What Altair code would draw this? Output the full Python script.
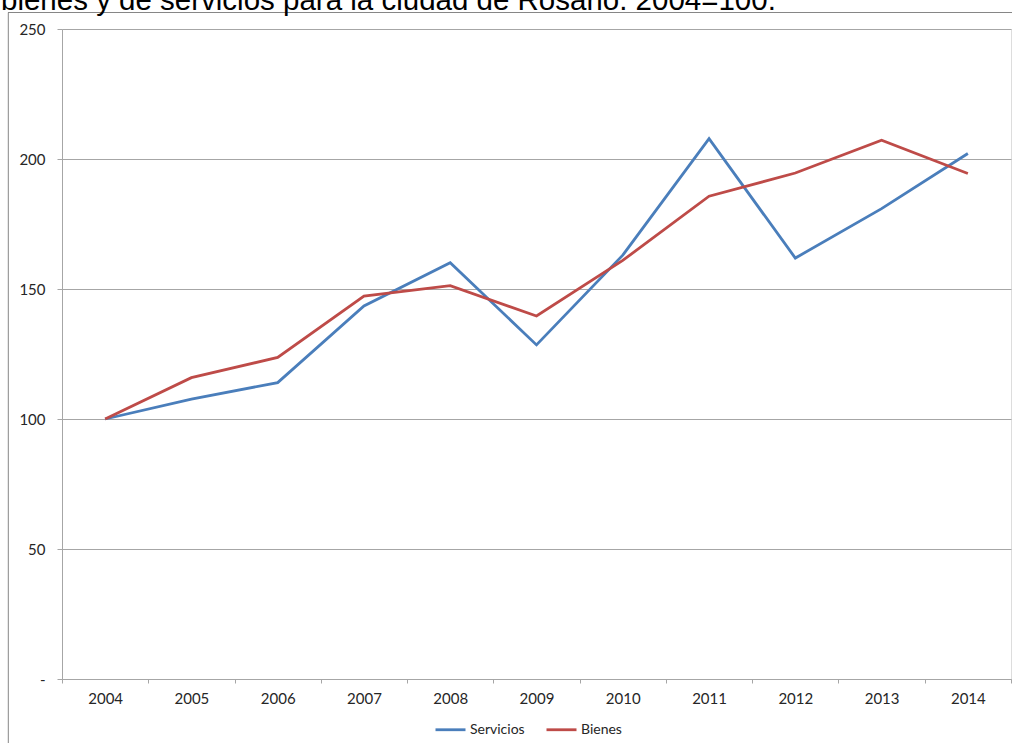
import altair as alt
import pandas as pd

# Price index by year, 2004 = 100
years = ["2004", "2005", "2006", "2007", "2008", "2009", "2010", "2011", "2012", "2013", "2014"]
servicios = [100, 107.6, 114.0, 143.5, 160.1, 128.5, 163.0, 207.8, 161.9, 180.9, 202.1]
bienes = [100, 115.9, 123.7, 147.3, 151.3, 139.6, 161.0, 185.7, 194.6, 207.2, 194.4]
series_names = ["Servicios", "Bienes"]
series_colors = ["#4a7ebb", "#be4b48"]
title_text = "bienes y de servicios para la ciudad de Rosario. 2004=100."

rows = []
for name, values in zip(series_names, [servicios, bienes]):
    for y, v in zip(years, values):
        rows.append({"anio": y, "serie": name, "valor": v})
df = pd.DataFrame(rows)

W, H = 949, 650
GRID = "#a6a6a6"
FONT = "Lato"
LABEL_SIZE = 15

lines = alt.Chart(df).mark_line(strokeWidth=2.8).encode(
    x=alt.X(
        "anio:O",
        sort=years,
        scale=alt.Scale(paddingInner=0, paddingOuter=0),
        axis=alt.Axis(
            title=None,
            labelAngle=0,
            tickBand="extent",
            grid=False,
            domainColor=GRID,
            tickColor=GRID,
            tickSize=4,
            labelPadding=8,
            labelFont=FONT,
            labelFontSize=LABEL_SIZE,
            labelColor="#262626",
        ),
    ),
    y=alt.Y(
        "valor:Q",
        scale=alt.Scale(domain=[0, 250], nice=False, zero=True),
        axis=alt.Axis(
            title=None,
            values=[0, 50, 100, 150, 200, 250],
            labelExpr="datum.value == 0 ? '-' : datum.label",
            gridColor=GRID,
            domainColor=GRID,
            tickColor=GRID,
            tickSize=5,
            labelPadding=12,
            labelFont=FONT,
            labelFontSize=LABEL_SIZE,
            labelColor="#262626",
        ),
    ),
    color=alt.Color(
        "serie:N",
        sort=series_names,
        scale=alt.Scale(domain=series_names, range=series_colors),
        legend=alt.Legend(
            title=None,
            orient="none",
            direction="horizontal",
            legendX=372,
            legendY=684,
            symbolType="stroke",
            symbolSize=900,
            symbolStrokeWidth=2.8,
            labelFont=FONT,
            labelFontSize=14,
            labelColor="#262626",
            labelOffset=3,
            columnPadding=15,
            padding=0,
        ),
    ),
)

# Outer chart frame (top and left edges) and the heading above it
frame_top = alt.Chart(pd.DataFrame({"k": [0]})).mark_rule(color="#868686", strokeWidth=1).encode(
    x=alt.value(-54), x2=alt.value(W + 5), y=alt.value(-16.5)
)
frame_left = alt.Chart(pd.DataFrame({"k": [0]})).mark_rule(color="#868686", strokeWidth=1).encode(
    x=alt.value(-53.7), y=alt.value(-16.5), y2=alt.value(H + 80)
)
heading = alt.Chart(pd.DataFrame({"t": [title_text]})).mark_text(
    align="left", baseline="alphabetic", font="Liberation Sans", fontSize=29.5, color="#000000"
).encode(text="t:N", x=alt.value(-61), y=alt.value(-19.4))

chart = alt.layer(lines, frame_top, frame_left, heading).properties(
    width=W,
    height=H,
    autosize=alt.AutoSizeParams(type="none"),
    padding={"left": 62, "top": 29, "right": 1, "bottom": 64},
).configure_view(stroke=None).configure(background="white")

chart.save("out.html", embed_options={"renderer": "svg", "actions": False})
